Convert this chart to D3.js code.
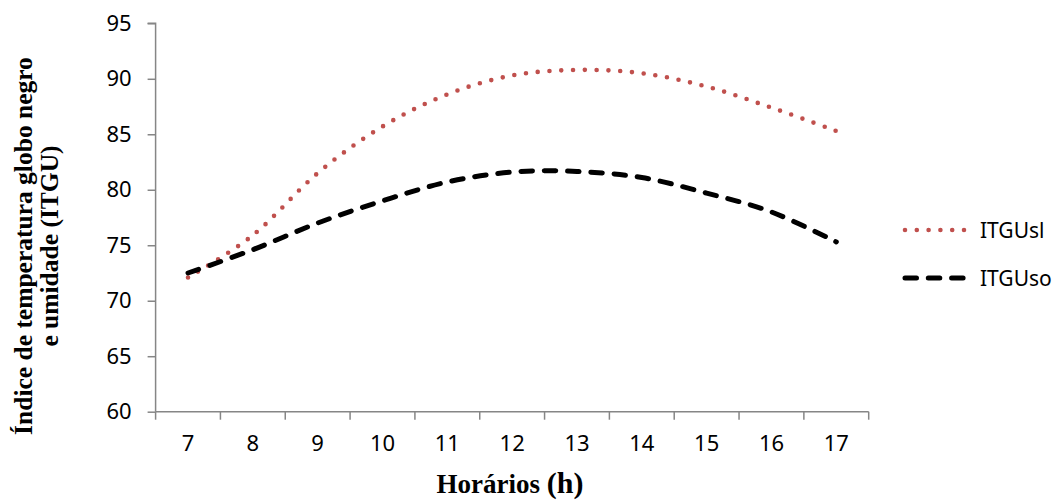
<!DOCTYPE html>
<html lang="pt">
<head>
<meta charset="UTF-8">
<title>ITGU</title>
<script src="https://d3js.org/d3.v7.min.js"></script>
<style>
  body { margin: 0; background: #fff; }
  .tick text { font-family: 'Noto Sans', sans-serif; font-size: 22px; fill: #000; }
  .title { font-family: 'Liberation Serif', 'Times New Roman', serif; font-weight: bold; fill: #000; }
  .legend text { font-family: 'Noto Sans', sans-serif; font-size: 21px; fill: #000; }
</style>
</head>
<body>
<svg id="chart" width="1057" height="501"></svg>
<script>
// --- Data ---
const hours = [7, 8, 9, 10, 11, 12, 13, 14, 15, 16, 17];
const itguSl = [72.1, 75.9, 81.5, 85.7, 88.6, 90.3, 90.8, 90.5, 89.3, 87.4, 85.3];
const itguSo = [72.5, 74.6, 77.0, 79.0, 80.7, 81.6, 81.65, 81.1, 79.7, 78.0, 75.3];
const yTicks = [60, 65, 70, 75, 80, 85, 90, 95];

const series = [
  { name: "ITGUsl", values: itguSl, color: "#C0504D", width: 4.6, dash: "0 11.8" },
  { name: "ITGUso", values: itguSo, color: "#000000", width: 5, dash: "11.5 11.8" }
];

const svg = d3.select("#chart");
const x = d3.scaleBand().domain(hours).range([155.6, 868.7]).padding(0);
const y = d3.scaleLinear().domain([60, 95]).range([411.7, 23.3]);

// y axis
const yAxis = svg.append("g")
  .attr("transform", "translate(155.6,0)")
  .call(d3.axisLeft(y).tickValues(yTicks).tickSize(8).tickPadding(16));
yAxis.selectAll("path, line").attr("stroke", "#868686").attr("stroke-width", 1.5);
yAxis.select(".domain").attr("d", `M-8,${y(95)}H0V${y(60)}`);

// x axis: labels at band centres, ticks at band edges
const xAxis = svg.append("g")
  .attr("transform", `translate(0,${y(60)})`)
  .call(d3.axisBottom(x).tickSize(0).tickPadding(24));
xAxis.select(".domain").attr("stroke", "#868686").attr("stroke-width", 1.5)
  .attr("d", `M${x.range()[0]},0H${x.range()[1]}`);
const edges = hours.map(h => x(h)).concat([x.range()[1]]);
xAxis.selectAll(".edge").data(edges).join("line")
  .attr("class", "edge")
  .attr("x1", d => d).attr("x2", d => d)
  .attr("y1", 0).attr("y2", 8)
  .attr("stroke", "#868686").attr("stroke-width", 1.5);

// lines
const line = d3.line()
  .x((d, i) => x(hours[i]) + x.bandwidth() / 2)
  .y(d => y(d))
  .curve(d3.curveCardinal.tension(0));

series.forEach(s => {
  svg.append("path")
    .datum(s.values)
    .attr("d", line)
    .attr("fill", "none")
    .attr("stroke", s.color)
    .attr("stroke-width", s.width)
    .attr("stroke-dasharray", s.dash)
    .attr("stroke-linecap", "round");
});

// legend
const legend = svg.append("g").attr("class", "legend");
series.forEach((s, i) => {
  const ly = 230 + i * 48;
  legend.append("line")
    .attr("x1", 905).attr("x2", 965)
    .attr("y1", ly).attr("y2", ly)
    .attr("stroke", s.color)
    .attr("stroke-width", s.width)
    .attr("stroke-dasharray", s.dash)
    .attr("stroke-linecap", "round");
  legend.append("text")
    .attr("x", 980).attr("y", ly + 7.5)
    .text(s.name);
});

// axis titles
const xt = svg.append("text").attr("class", "title")
  .attr("x", 510).attr("y", 493).attr("text-anchor", "middle");
xt.append("tspan").attr("font-size", 27).text("Horários ");
xt.append("tspan").attr("font-size", 30).text("(h)");

const yt = svg.append("text").attr("class", "title")
  .attr("transform", "translate(32,246) rotate(-90)")
  .attr("text-anchor", "middle").attr("font-size", 25.5);
yt.append("tspan").attr("x", 0).attr("y", 0).text("Índice de temperatura globo negro");
yt.append("tspan").attr("x", 0).attr("y", 26).text("e umidade (ITGU)");
</script>
</body>
</html>
